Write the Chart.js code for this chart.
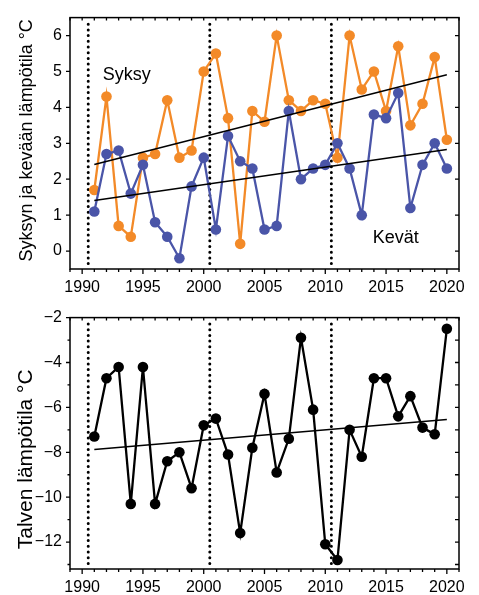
<!DOCTYPE html>
<html>
<head>
<meta charset="utf-8">
<script src="https://cdn.jsdelivr.net/npm/chart.js@4.4.1/dist/chart.umd.min.js"></script>
<style>
  html, body { margin: 0; padding: 0; background: #fff; }
  #wrap { position: relative; width: 479px; height: 595px; }
  canvas { position: absolute; left: 0; }
  #autumnSpring { top: 0; }
  #winter { top: 300px; }
</style>
</head>
<body>
<div id="wrap">
  <canvas id="autumnSpring" width="479" height="300"></canvas>
  <canvas id="winter" width="479" height="295"></canvas>
</div>
<script>
// Seasonal mean temperatures, 1991–2020
const years = [1991, 1992, 1993, 1994, 1995, 1996, 1997, 1998, 1999, 2000,
               2001, 2002, 2003, 2004, 2005, 2006, 2007, 2008, 2009, 2010,
               2011, 2012, 2013, 2014, 2015, 2016, 2017, 2018, 2019, 2020];
const autumn = [1.7, 4.3, 0.7, 0.4, 2.6, 2.7, 4.2, 2.6, 2.8, 5.0,
                5.5, 3.7, 0.2, 3.9, 3.6, 6.0, 4.2, 3.9, 4.2, 4.1,
                2.6, 6.0, 4.5, 5.0, 3.9, 5.7, 3.5, 4.1, 5.4, 3.1];
const spring = [1.1, 2.7, 2.8, 1.6, 2.4, 0.8, 0.4, -0.2, 1.8, 2.6,
                0.6, 3.2, 2.5, 2.3, 0.6, 0.7, 3.9, 2.0, 2.3, 2.4,
                3.0, 2.3, 1.0, 3.8, 3.7, 4.4, 1.2, 2.4, 3.0, 2.3];
const winter = [-7.3, -4.7, -4.2, -10.3, -4.2, -10.3, -8.4, -8.0, -9.6, -6.8,
                -6.5, -8.1, -11.6, -7.8, -5.4, -8.9, -7.4, -2.9, -6.1, -12.1,
                -12.8, -7.0, -8.2, -4.7, -4.7, -6.4, -5.5, -6.9, -7.2, -2.5];

// Linear trends (values at first and last year)
const trendYears = [1991, 2020];
const autumnTrend = [2.41, 4.91];
const springTrend = [1.41, 2.83];
const winterTrend = [-7.88, -6.54];

// Decade boundaries marked with dotted lines
const decadeBreaks = [1990.5, 2000.5, 2010.5];

// Axis ticks
const yearTicks = [1990, 1995, 2000, 2005, 2010, 2015, 2020];
const seasonTicks = [0, 1, 2, 3, 4, 5, 6];
const winterTicks = [-12, -10, -8, -6, -4, -2];

const ORANGE = '#F38A28';
const BLUE = '#4A55A8';
const FONT = "'Liberation Sans', Arial, Helvetica, sans-serif";

const pts = (xs, ys) => xs.map((x, i) => ({ x: x, y: ys[i] }));

function seriesDataset(values, color, order) {
  return {
    data: pts(years, values),
    borderColor: color,
    backgroundColor: color,
    borderWidth: 2.3,
    pointRadius: 5.3,
    pointBorderWidth: 0,
    pointBackgroundColor: color,
    order: order
  };
}
function trendDataset(values) {
  return {
    data: pts(trendYears, values),
    borderColor: '#000',
    borderWidth: 1.5,
    pointRadius: 0,
    order: 0
  };
}
function breakDatasets(lo, hi) {
  return decadeBreaks.map(b => ({
    data: [{ x: b, y: lo }, { x: b, y: hi }],
    borderColor: '#000',
    borderWidth: 3,
    borderDash: [0, 5.7],
    borderCapStyle: 'round',
    pointRadius: 0,
    order: 5
  }));
}

// Frame with tick marks, the rotated axis title and free-floating labels
const framePlugin = {
  id: 'frame',
  afterDraw(chart, args, opts) {
    const { ctx, chartArea: a, scales: { x, y } } = chart;
    ctx.save();
    ctx.strokeStyle = '#000';
    ctx.lineWidth = 1.5;
    ctx.strokeRect(a.left, a.top, a.right - a.left, a.bottom - a.top);
    ctx.lineWidth = 1.3;
    ctx.beginPath();
    for (let yr = 1989; yr <= 2021; yr++) {
      const px = x.getPixelForValue(yr);
      const len = yr % 5 === 0 ? 5 : 3;
      ctx.moveTo(px, a.bottom); ctx.lineTo(px, a.bottom + len);
      ctx.moveTo(px, a.top); ctx.lineTo(px, a.top + 3);
    }
    for (let v = opts.yFrom; v <= opts.yTo; v += opts.yStep) {
      const py = y.getPixelForValue(v);
      const major = opts.yMajor(v);
      ctx.moveTo(a.left, py); ctx.lineTo(a.left - (major ? 4 : 2.5), py);
      ctx.moveTo(a.right, py); ctx.lineTo(a.right - 4, py);
    }
    ctx.stroke();

    ctx.fillStyle = '#000';
    ctx.textBaseline = 'alphabetic';

    // y-axis title
    ctx.save();
    ctx.font = opts.titleSize + 'px ' + FONT;
    ctx.textAlign = 'center';
    ctx.translate(32, (a.top + a.bottom) / 2 + opts.titleShift);
    ctx.rotate(-Math.PI / 2);
    ctx.fillText(opts.title, 0, 0);
    ctx.restore();

    ctx.font = '18px ' + FONT;
    ctx.textAlign = 'left';
    (opts.labels || []).forEach(l => {
      ctx.fillText(l.text, x.getPixelForValue(l.x), y.getPixelForValue(l.y));
    });
    ctx.restore();
  }
};

function makeOptions(yMin, yMax, yTickValues, xAxisHeight, topPad, frame) {
  return {
    responsive: false,
    animation: false,
    devicePixelRatio: 1,
    layout: { padding: { left: 0, right: 20, top: topPad, bottom: 0 } },
    plugins: { legend: { display: false }, tooltip: { enabled: false }, frame: frame },
    elements: { line: { tension: 0 } },
    scales: {
      x: {
        type: 'linear',
        min: 1989, max: 2021,
        grid: { display: false, drawTicks: false, tickLength: 0 },
        border: { display: false },
        afterBuildTicks: s => { s.ticks = yearTicks.map(v => ({ value: v })); },
        afterFit: s => { s.height = xAxisHeight; },
        ticks: { color: '#000', padding: 9, maxRotation: 0, autoSkip: false,
                 font: { family: FONT, size: 16 }, callback: v => String(v) }
      },
      y: {
        type: 'linear',
        min: yMin, max: yMax,
        grid: { display: false, drawTicks: false, tickLength: 0 },
        border: { display: false },
        afterBuildTicks: s => { s.ticks = yTickValues.map(v => ({ value: v })); },
        afterFit: s => { s.width = 70; },
        ticks: { color: '#000', padding: 8, autoSkip: false,
                 font: { family: FONT, size: 16 },
                 callback: v => (v < 0 ? '\u2212' + Math.abs(v) : String(v)) }
      }
    }
  };
}

new Chart(document.getElementById('autumnSpring'), {
  type: 'line',
  data: {
    datasets: [
      trendDataset(autumnTrend),
      trendDataset(springTrend),
      seriesDataset(spring, BLUE, 1),
      seriesDataset(autumn, ORANGE, 2),
      ...breakDatasets(-0.35, 6.35)
    ]
  },
  options: makeOptions(-0.5, 6.5, seasonTicks, 31, 10, {
    yFrom: 0, yTo: 6, yStep: 1, yMajor: () => true,
    title: 'Syksyn ja kevään lämpötila °C', titleSize: 18, titleShift: -3,
    labels: [{ text: 'Syksy', x: 1991.7, y: 4.76 }, { text: 'Kevät', x: 2013.9, y: 0.22 }]
  }),
  plugins: [framePlugin]
});

new Chart(document.getElementById('winter'), {
  type: 'line',
  data: {
    datasets: [
      trendDataset(winterTrend),
      seriesDataset(winter, '#000', 1),
      ...breakDatasets(-12.95, -2.25)
    ]
  },
  options: makeOptions(-13.2, -2, winterTicks, 26, 11, {
    yFrom: -13, yTo: -2, yStep: 1, yMajor: v => v % 2 === 0,
    title: 'Talven lämpötila °C', titleSize: 21, titleShift: 16,
    labels: []
  }),
  plugins: [framePlugin]
});
</script>
</body>
</html>
